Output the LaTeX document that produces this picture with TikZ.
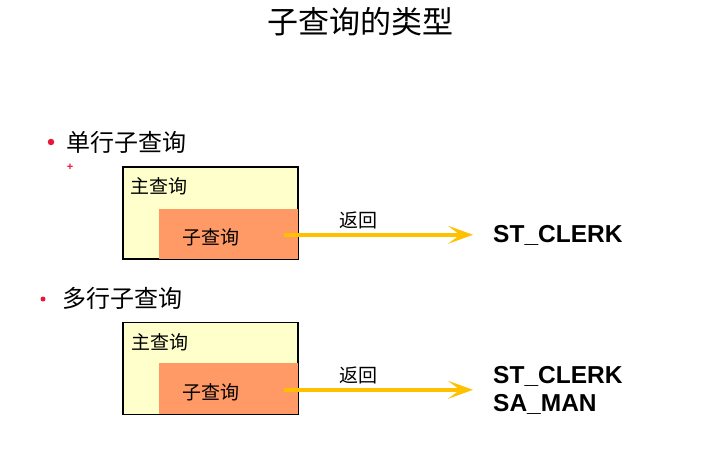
\documentclass[tikz,border=0pt]{standalone}
\usepackage{fontspec}
\setmainfont{Liberation Sans}
\newfontfamily\cjk{Noto Sans CJK SC}
\usetikzlibrary{arrows.meta, positioning}

\definecolor{boxyellow}{HTML}{FFFFCC}
\definecolor{suborange}{HTML}{FF9966}
\definecolor{arrowgold}{HTML}{FFC000}
\definecolor{bulletred}{HTML}{E8173A}

\begin{document}
\begin{tikzpicture}[x=1pt, y=-1pt,
mainbox/.style={rectangle, draw=black, line width=1.6pt, fill=boxyellow,
minimum width=175pt, minimum height=92pt, inner sep=0pt},
%
subbox/.style={rectangle, fill=suborange, minimum width=139pt,
minimum height=50pt, inner sep=0pt, anchor=south east},
%
boxtext/.style={inner sep=0pt, text=black, font=\cjk\fontsize{19}{21}\selectfont},
%
bullet/.style={circle, fill=bulletred, inner sep=0pt, minimum size=5pt},
%
heading/.style={inner sep=0pt, anchor=west, font=\cjk\fontsize{24}{28}\selectfont},
%
result/.style={inner sep=0pt, anchor=west, align=left,
font=\bfseries\fontsize{24.5}{28}\selectfont},
%
returns/.style={-{Stealth[length=25pt, width=18pt, inset=12pt]},
line width=4pt, arrowgold}]

\useasboundingbox (0,0) rectangle (718,448);

\node [inner sep=0pt, font=\cjk\fontsize{31}{34}\selectfont] (title) at (360,22)
  {子查询的类型};

%%%%%%%%%%%%%%%%%%%%%%%%%%%%%%
\begin{scope}
  \node [bullet, minimum size=6.5pt] (dotA) at (51,142) {};
  \node [heading] (singleRow) at (66,142) {单行子查询};
  \node [inner sep=0pt, text=bulletred, font=\bfseries\fontsize{11}{11}\selectfont]
    (mark) at (70,167) {+};

  \node [mainbox] (mainA) at (210.5,213) {};
  \node [subbox] (subA) at ([xshift=-0.8pt, yshift=0.8pt]mainA.south east) {};
  \node [boxtext, anchor=west] (mainTextA) at (130,186) {主查询};
  \node [boxtext] (subTextA) at (211,237) {子查询};

  \coordinate (fromA) at ([xshift=-14pt, yshift=-1pt]subA.east);
  \node [result] (resultA) at (493,235) {ST\_CLERK};
  \draw [returns] (fromA) -- ([xshift=-20pt]resultA.west |- fromA)
    node [midway, above=4pt, boxtext, xshift=-20pt] (retA) {返回};
\end{scope}

%%%%%%%%%%%%%%%%%%%%%%%%%%%%%%
\begin{scope}
  \node [bullet] (dotB) at (43,299) {};
  \node [heading] (multiRow) at (62,298) {多行子查询};

  \node [mainbox] (mainB) at (210.5,368.5) {};
  \node [subbox, minimum height=51pt] (subB)
    at ([xshift=-0.8pt, yshift=0.8pt]mainB.south east) {};
  \node [boxtext, anchor=west] (mainTextB) at (131,342) {主查询};
  \node [boxtext] (subTextB) at (211,392) {子查询};

  \coordinate (fromB) at ([xshift=-14pt, yshift=-1pt]subB.east);
  \node [result] (resultB) at (493,390) {ST\_CLERK\\SA\_MAN};
  \draw [returns] (fromB) -- ([xshift=-20pt]resultB.west |- fromB)
    node [midway, above=4pt, boxtext, xshift=-20pt] (retB) {返回};
\end{scope}

\end{tikzpicture}
\end{document}
